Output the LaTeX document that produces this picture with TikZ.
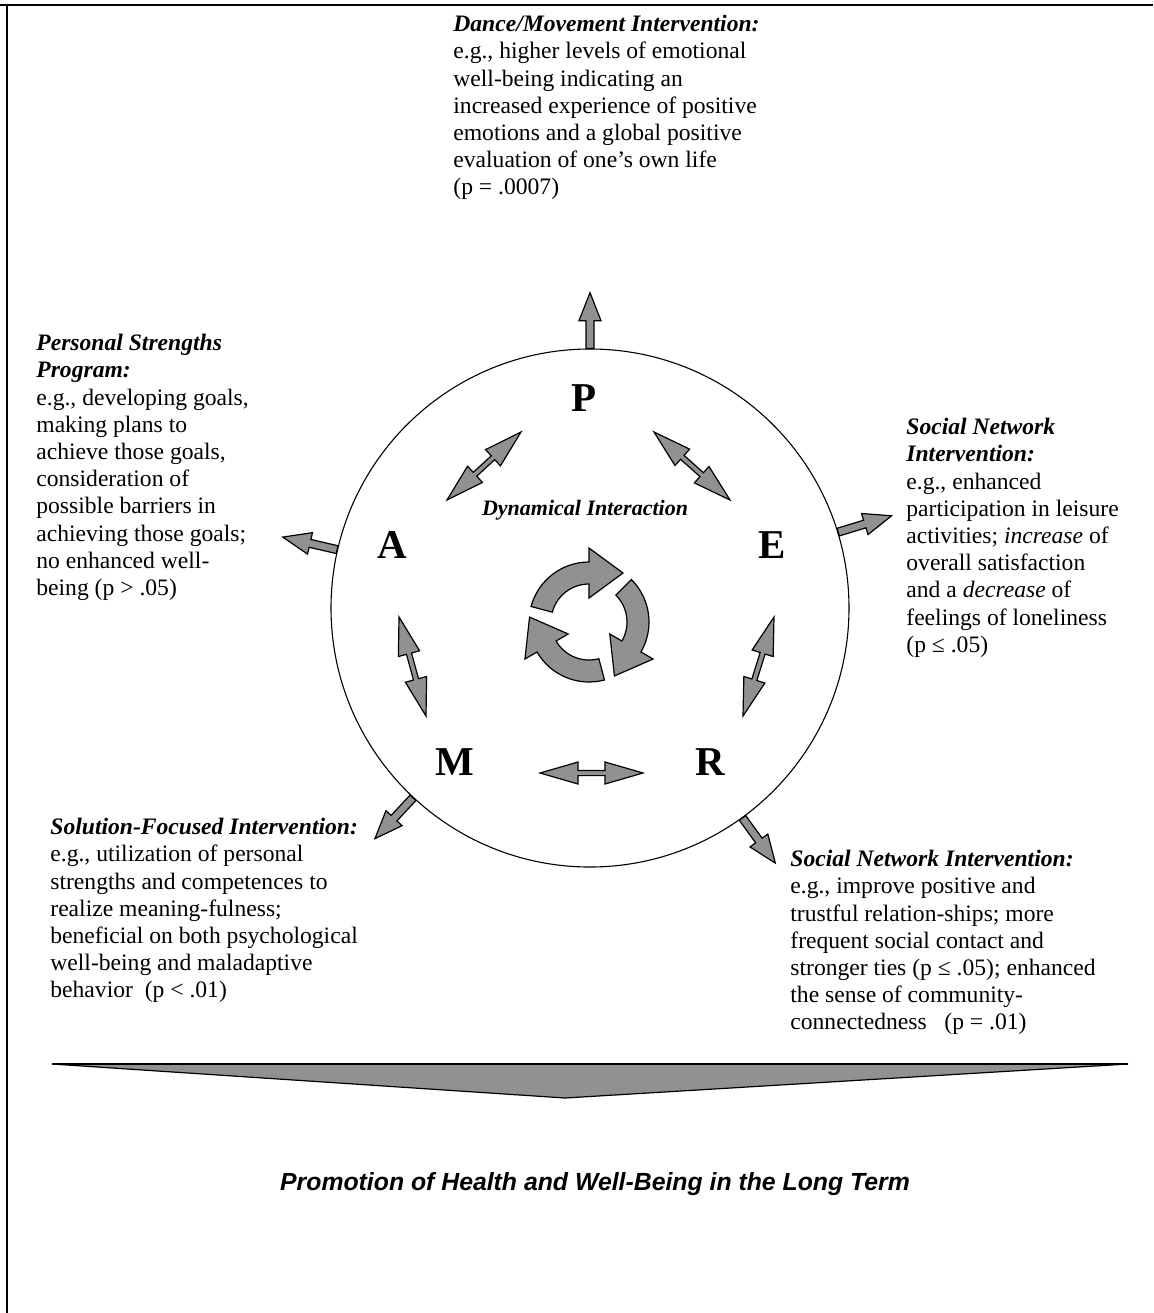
\documentclass[tikz,border=0pt]{standalone}
\usepackage{fontspec}
\setmainfont{Liberation Serif}
\newfontfamily\goalfont{Liberation Sans}
\usetikzlibrary{calc}
\definecolor{arrowgray}{RGB}{145,145,145}
\tikzset{
  blockarrow/.style={fill=arrowgray, draw=black, line width=0.6pt},
  letter/.style={inner sep=0pt, font=\fontsize{20.5}{20.5}\selectfont\bfseries},
  effect/.style={inner sep=0pt, anchor=north west, align=left, font=\fontsize{11.8}{13.6}\selectfont},
}
\newcommand{\effecttitle}[1]{\textbf{\textit{#1}}}
% outward block arrow: shaft from #1, tip at #2
\newcommand{\outarrow}[2]{%
  \draw[blockarrow] ($(#1)!2pt!90:(#2)$) -- ($(#2)!14pt!(#1)!2pt!-90:(#1)$)
    -- ($(#2)!14pt!(#1)!5.5pt!-90:(#1)$) -- (#2) -- ($(#2)!14pt!(#1)!5.5pt!90:(#1)$)
    -- ($(#2)!14pt!(#1)!2pt!90:(#1)$) -- ($(#1)!2pt!-90:(#2)$) -- cycle;}
% double block arrow between tips #1 and #2
\newcommand{\twoway}[2]{%
  \draw[blockarrow] (#1) -- ($(#1)!19pt!(#2)!5.5pt!90:(#2)$) -- ($(#1)!19pt!(#2)!1.3pt!90:(#2)$)
    -- ($(#2)!19pt!(#1)!1.3pt!-90:(#1)$) -- ($(#2)!19pt!(#1)!5.5pt!-90:(#1)$) -- (#2)
    -- ($(#2)!19pt!(#1)!5.5pt!90:(#1)$) -- ($(#2)!19pt!(#1)!1.3pt!90:(#1)$)
    -- ($(#1)!19pt!(#2)!1.3pt!-90:(#2)$) -- ($(#1)!19pt!(#2)!5.5pt!-90:(#2)$) -- cycle;}

\begin{document}
\begin{tikzpicture}[x=0.5pt, y=-0.5pt]
\useasboundingbox (0,0) rectangle (1153,1313);
% frame (only top and left side are visible)
\coordinate (frameTL) at (7,5);
\draw[line width=0.85pt] (0,5) -- (1153,5);
\draw[line width=1.1pt] (frameTL) -- (7,1313);

% PERMA circle
\node[draw, circle, line width=0.55pt, minimum size=259pt, inner sep=0pt] (ring) at (590,608) {};
\node[letter] (P) at (584,398) {P};
\node[letter] (E) at (772,545) {E};
\node[letter] (A) at (392,545) {A};
\node[letter] (M) at (455,762) {M};
\node[letter] (R) at (710,762) {R};
\node[inner sep=0pt, anchor=base, font=\fontsize{11}{11}\selectfont\bfseries\itshape] (dyn) at (585,515) {Dynamical Interaction};

% interactions between the elements
\coordinate (pa1) at (447,500); \coordinate (pa2) at (521,432);
\coordinate (pe1) at (654,432); \coordinate (pe2) at (730,500);
\coordinate (am1) at (399,617); \coordinate (am2) at (426,716);
\coordinate (er1) at (774,617); \coordinate (er2) at (743,716);
\coordinate (mr1) at (540,773); \coordinate (mr2) at (643,773);
\twoway{pa1}{pa2}
\twoway{pe1}{pe2}
\twoway{am1}{am2}
\twoway{er1}{er2}
\twoway{mr1}{mr2}

% cycle in the middle
\coordinate (cyc) at (589,622);
\foreach \a in {-90,30,150}
  \draw[blockarrow] ($(cyc)+(\a-75:60)$) arc[start angle=\a-75, end angle=\a, radius=60]
    -- ($(cyc)+(\a:74)$) -- ($(cyc)+(\a:49)+(\a+90:34)$) -- ($(cyc)+(\a:24)$)
    -- ($(cyc)+(\a:38)$) arc[start angle=\a, end angle=\a-75, radius=38] -- cycle;

% outward arrows to the interventions
\foreach \ang in {90,167,17,227,306} {
  \coordinate (tip\ang) at ($(ring.center)!1.215!(ring.\ang)$);
  \outarrow{ring.\ang}{tip\ang}
}

% interventions
\node[effect] (dance) at (453,15) {\effecttitle{Dance/Movement Intervention:}\\
  e.g., higher levels of emotional\\ well-being indicating an\\ increased experience of positive\\
  emotions and a global positive\\ evaluation of one’s own life\\ (p = .0007)};
\node[effect] (strengths) at (36,334) {\effecttitle{Personal Strengths}\\ \effecttitle{Program:}\\
  e.g., developing goals,\\ making plans to\\ achieve those goals,\\ consideration of\\
  possible barriers in\\ achieving those goals;\\ no enhanced well-\\ being (p > .05)};
\node[effect] (leisure) at (906,418) {\effecttitle{Social Network}\\ \effecttitle{Intervention:}\\
  e.g., enhanced\\ participation in leisure\\ activities; \textit{increase} of\\ overall satisfaction\\
  and a \textit{decrease} of\\ feelings of loneliness\\ (p ≤ .05)};
\node[effect] (solution) at (50,818) {\effecttitle{Solution-Focused Intervention:}\\
  e.g., utilization of personal\\ strengths and competences to\\ realize meaning-fulness;\\
  beneficial on both psychological\\ well-being and maladaptive\\ behavior\ \ (p < .01)};
\node[effect] (network) at (790,850) {\effecttitle{Social Network Intervention:}\\
  e.g., improve positive and\\ trustful relation-ships; more\\ frequent social contact and\\
  stronger ties (p ≤ .05); enhanced\\ the sense of community-\\ connectedness\ \ \ (p = .01)};

% long term outcome
\coordinate (bigL) at (52,1064);
\coordinate (bigR) at (1128,1064);
\coordinate (bigT) at (565,1098);
\draw[blockarrow] (bigL) -- (bigR) -- (bigT) -- cycle;
\draw[line width=1.1pt] (bigL) -- (bigR);
\node[inner sep=0pt, anchor=base, font=\goalfont\bfseries\itshape\fontsize{12.4}{12.4}\selectfont] (goal) at (595,1190)
  {Promotion of Health and Well-Being in the Long Term};
\end{tikzpicture}
\end{document}
